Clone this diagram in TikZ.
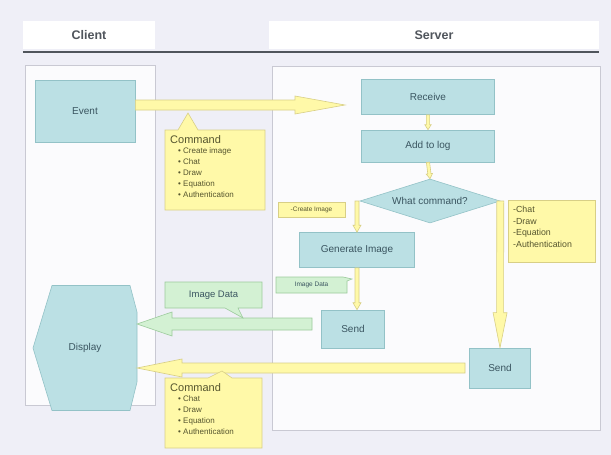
\documentclass[tikz,border=0pt]{standalone}
\usepackage{fontspec}
\setmainfont{Liberation Sans}
\usetikzlibrary{calc,shapes.geometric}
\definecolor{bgc}{HTML}{EFEFF7}
\definecolor{panelc}{HTML}{FBFBFD}
\definecolor{paneld}{HTML}{C9C9D3}
\definecolor{tealf}{HTML}{BBE0E4}
\definecolor{teald}{HTML}{93C2C7}
\definecolor{yelf}{HTML}{FFF9A8}
\definecolor{yeld}{HTML}{D8CF86}
\definecolor{grnf}{HTML}{D3F1D3}
\definecolor{grnd}{HTML}{9CCB9C}
\definecolor{txt}{HTML}{3A5560}
\definecolor{ctxt}{HTML}{55552E}
\definecolor{hline}{HTML}{50555C}
\tikzset{
  bw/.store in=\bw, hw/.store in=\hw, hl/.store in=\hl, bw=5, hw=10, hl=40,
  barrow/.style={line width=0.6pt, to path={
    let \p1=(\tikztostart), \p2=(\tikztotarget),
        \n1={veclen(\x2-\x1,\y2-\y1)}, \n2={atan2(\y2-\y1,\x2-\x1)},
        \n3={\n1-\hl}, \n4={\n2+90}, \n5={\n2-90} in
    ($(\p1)+(\n4:\bw pt)$) -- ($(\p1)+(\n2:\n3)+(\n4:\bw pt)$)
    -- ($(\p1)+(\n2:\n3)+(\n4:\hw pt)$) -- (\p2)
    -- ($(\p1)+(\n2:\n3)+(\n5:\hw pt)$) -- ($(\p1)+(\n2:\n3)+(\n5:\bw pt)$)
    -- ($(\p1)+(\n5:\bw pt)$) -- cycle}},
  yarrow/.style={barrow, fill=yelf, draw=yeld},
  garrow/.style={barrow, fill=grnf, draw=grnd},
  panel/.style={draw=paneld, fill=panelc, line width=0.8pt},
  hdr/.style={fill=white, font=\fontsize{12.5}{14}\selectfont\bfseries, text=hline},
  tbox/.style={draw=teald, fill=tealf, line width=0.6pt, text=txt, font=\fontsize{10}{12}\selectfont},
  ycall/.style={draw=yeld, fill=yelf, line width=0.6pt},
  gcall/.style={draw=grnd, fill=grnf, line width=0.6pt},
  ctext/.style={text=ctxt, align=left, inner sep=0pt, font=\fontsize{8}{11}\selectfont},
  small/.style={text=ctxt, font=\fontsize{6.5}{7}\selectfont, inner sep=0pt},
  geo/.style={draw=none, inner sep=0pt, outer sep=0pt}
}
\begin{document}
\begin{tikzpicture}[x=1pt,y=-1pt]
\useasboundingbox[fill=bgc] (0,0) rectangle (611,455);
% headers
\node[hdr, minimum width=132, minimum height=28] (hclient) at (89,35) {Client};
\node[hdr, minimum width=330, minimum height=28] (hserver) at (434,35) {Server};
\draw[hline, line width=1.8pt] (hclient.south west |- 0,52) -- (hserver.south east |- 0,52);
% panels
\node[panel, minimum width=130, minimum height=340] (cpanel) at (90,235) {};
\node[panel, minimum width=328, minimum height=364] (spanel) at (436,248) {};
% boxes
\node[tbox, minimum width=100, minimum height=62] (event) at (85,111) {Event};
\node[tbox, minimum width=133, minimum height=35] (receive) at (428,97) {Receive};
\node[tbox, minimum width=133, minimum height=32] (addlog) at (428,146) {Add to log};
\node[tbox, diamond, aspect=3, inner sep=0pt, minimum width=140, minimum height=44] (whatcmd) at (430,201) {What command?};
\node[tbox, minimum width=115, minimum height=35] (genimg) at (357,250) {Generate Image};
\node[tbox, minimum width=63, minimum height=38] (send1) at (353,329) {Send};
\node[tbox, minimum width=61, minimum height=40] (send2) at (500,368) {Send};
% display shape
\node[geo, minimum width=104, minimum height=125] (display) at (85,348) {};
\draw[draw=teald, fill=tealf, line width=0.6pt]
  ($(display.north west)+(19,0)$) -- ($(display.north east)+(-7,0)$)
  -- ($(display.east)+(0,-36)$) -- ($(display.east)+(0,34)$)
  -- ($(display.south east)+(-7,0)$) -- ($(display.south west)+(19,0)$)
  -- (display.west) -- cycle;
\node[text=txt, font=\fontsize{10}{12}\selectfont] at (display.center) {Display};
% callouts (geometry)
\node[geo, minimum width=100, minimum height=80] (cmd1) at (215,170) {};
\coordinate (cmd1tip) at (188,113);
\node[geo, minimum width=97, minimum height=70] (cmd2) at (213.5,413) {};
\coordinate (cmd2tip) at (222,371);
\node[geo, minimum width=97, minimum height=26] (imgcall) at (213.5,295) {};
\coordinate (imgtip) at (243,318);
\node[geo, minimum width=67, minimum height=15] (crlab) at (311.5,209.5) {};
\node[geo, minimum width=71, minimum height=16] (idlab) at (311.5,285) {};
\coordinate (idtip) at (352,279);
\node[geo, minimum width=87, minimum height=62] (note) at (551.5,231) {};
% arrows
\coordinate (cmdtip) at (345,105);
\draw[yarrow, bw=5, hw=9, hl=50] (event.east |- cmdtip) to (cmdtip);
\draw[yarrow, bw=1.6, hw=3.2, hl=5] (receive.south) to (addlog.north);
\draw[yarrow, bw=1.6, hw=3.2, hl=5] (addlog.south) to (whatcmd.north);
\draw[yarrow, bw=2, hw=4, hl=7] (genimg.north |- whatcmd.west) to (genimg.north);
\draw[yarrow, bw=2, hw=4, hl=7] (genimg.south) to (genimg.south |- send1.north);
\draw[yarrow, bw=3.5, hw=7, hl=35] (whatcmd.east) to (send2.north);
\coordinate (g0) at (312,324);
\draw[garrow, bw=6, hw=12, hl=35] (g0) to (display.east |- g0);
\coordinate (y0) at (465,368);
\draw[yarrow, bw=5, hw=9, hl=45] (y0) to (display.east |- y0);
% callout shapes
\draw[ycall] (cmd1.north west) -- ($(cmd1.north west)+(13,0)$) -- (cmd1tip) -- ($(cmd1.north west)+(33,0)$)
  -- (cmd1.north east) -- (cmd1.south east) -- (cmd1.south west) -- cycle;
\node[ctext, anchor=north west] at ($(cmd1.north west)+(5,5)$)
  {{\fontsize{11}{12}\selectfont Command}\\[-1pt]
   \hspace*{8pt}\textbullet\ Create image\\
   \hspace*{8pt}\textbullet\ Chat\\
   \hspace*{8pt}\textbullet\ Draw\\
   \hspace*{8pt}\textbullet\ Equation\\
   \hspace*{8pt}\textbullet\ Authentication};
\draw[ycall] (cmd2.north west) -- ($(cmd2.north west)+(43,0)$) -- (cmd2tip) -- ($(cmd2.north west)+(67,0)$)
  -- (cmd2.north east) -- (cmd2.south east) -- (cmd2.south west) -- cycle;
\node[ctext, anchor=north west] at ($(cmd2.north west)+(5,5)$)
  {{\fontsize{11}{12}\selectfont Command}\\[-1pt]
   \hspace*{8pt}\textbullet\ Chat\\
   \hspace*{8pt}\textbullet\ Draw\\
   \hspace*{8pt}\textbullet\ Equation\\
   \hspace*{8pt}\textbullet\ Authentication};
\draw[gcall] (imgcall.north west) -- (imgcall.north east) -- (imgcall.south east)
  -- ($(imgcall.south east)+(-24,0)$) -- (imgtip) -- ($(imgcall.south east)+(-37,0)$)
  -- (imgcall.south west) -- cycle;
\node[text=txt, font=\fontsize{9.5}{11}\selectfont] at (imgcall.center) {Image Data};
\draw[ycall] (crlab.north west) rectangle (crlab.south east);
\node[small] at (crlab.center) {-Create Image};
\draw[gcall] (idlab.north west) -- ($(idlab.north east)+(-4,0)$) -- (idtip) -- ($(idlab.north east)+(0,4)$)
  -- (idlab.south east) -- (idlab.south west) -- cycle;
\node[small, text=txt] at (idlab.center) {Image Data};
\draw[ycall] (note.north west) rectangle (note.south east);
\node[ctext, anchor=north west, font=\fontsize{8.8}{11.5}\selectfont] at ($(note.north west)+(5,6)$)
  {-Chat\\-Draw\\-Equation\\-Authentication};
\end{tikzpicture}
\end{document}
